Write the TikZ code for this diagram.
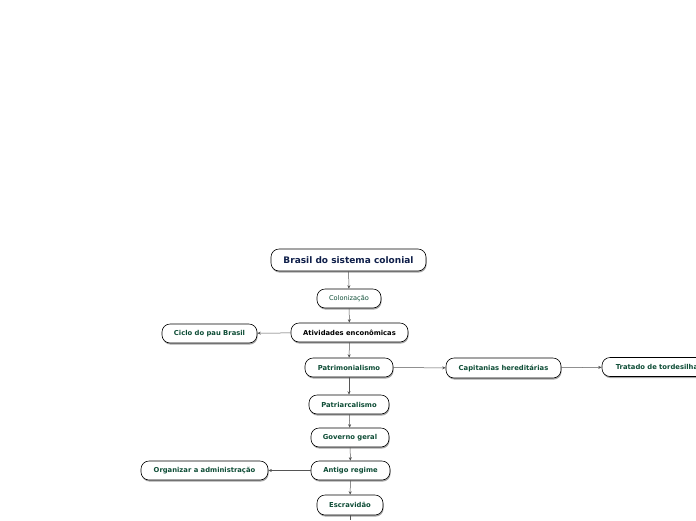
\documentclass[tikz,border=0pt]{standalone}
\usepackage{fontspec}
\setmainfont{DejaVu Sans}
\usetikzlibrary{shadows,arrows.meta}

\definecolor{mapgreen}{HTML}{0E4D36}
\definecolor{mapnavy}{HTML}{0F1F4A}
\definecolor{mapline}{HTML}{555555}

\tikzset{
  topic/.style={draw=black, line width=0.6pt, rounded corners=8pt, fill=white,
    copy shadow={shadow xshift=0.6pt, shadow yshift=-1.6pt, fill=gray!70, draw=none},
    inner sep=0pt, minimum height=19pt, text=mapgreen,
    font=\fontsize{6.8}{8}\selectfont\bfseries},
  link/.style={draw=mapline, line width=0.5pt, -{Stealth[length=3.5pt,width=3pt]}}
}

\begin{document}
\begin{tikzpicture}[x=1pt, y=-1pt]
  \useasboundingbox (0,0) rectangle (696,520);
  \clip (0,0) rectangle (696,520);

  % center column
  \node[topic, minimum width=155pt, minimum height=22pt, text=mapnavy,
        font=\fontsize{9}{10}\selectfont\bfseries] (brasil) at (348.5,260) {Brasil do sistema colonial};
  \node[topic, minimum width=64pt, font=\fontsize{6.6}{8}\selectfont] (colon) at (349,298.5) {Colonização};
  \node[topic, minimum width=117pt, text=black] (ativ) at (349.5,332.5) {Atividades enconômicas};
  \node[topic, minimum width=88pt] (patrim) at (349,367.5) {Patrimonialismo};
  \node[topic, minimum width=80pt] (patriarc) at (349,404.5) {Patriarcalismo};
  \node[topic, minimum width=78pt] (gov) at (350,437.5) {Governo geral};
  \node[topic, minimum width=79pt] (antigo) at (350.5,470.5) {Antigo regime};
  \node[topic, minimum width=66pt, minimum height=20pt] (escrav) at (350,505) {Escravidão};
  \coordinate (fim) at (350,520);

  % side branches
  \node[topic, minimum width=95pt] (ciclo) at (209.5,333.5) {Ciclo do pau Brasil};
  \node[topic, minimum width=127pt] (organ) at (204.5,470.5) {Organizar a administração};
  \node[topic, minimum width=115pt, minimum height=20pt] (capit) at (503.5,368) {Capitanias hereditárias};
  \node[topic, minimum width=114pt] (trat) at (659,367) {Tratado de tordesilhas};

  \draw[link] (brasil) -- (colon);
  \draw[link] (colon) -- (ativ);
  \draw[link] (ativ) -- (patrim);
  \draw[link] (patrim) -- (patriarc);
  \draw[link] (patriarc) -- (gov);
  \draw[link] (gov) -- (antigo);
  \draw[link] (antigo) -- (escrav);
  \draw[draw=mapline, line width=0.5pt] (escrav) -- (fim);
  \draw[link] (ativ) -- (ciclo);
  \draw[link] (antigo) -- (organ);
  \draw[link] (patrim) -- (capit);
  \draw[link] (capit) -- (trat);
\end{tikzpicture}
\end{document}
